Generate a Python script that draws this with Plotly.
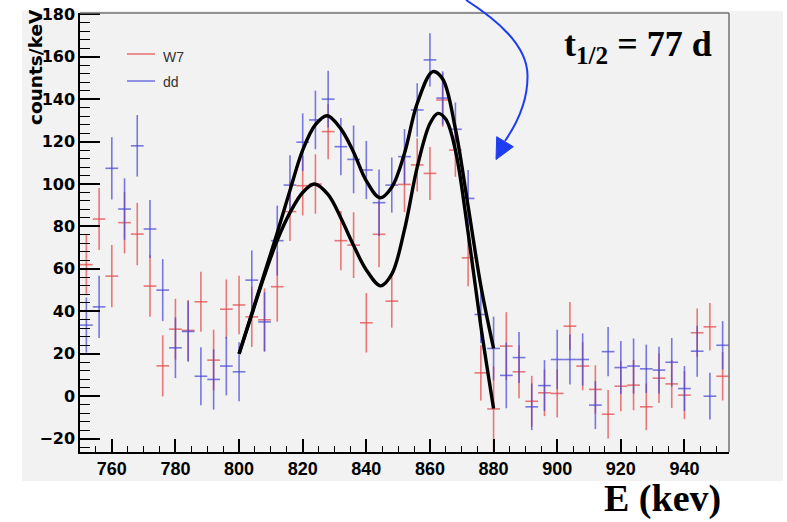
import plotly.graph_objects as go

# Energy bin centres (keV) and counts/keV for the two models
energy = [752, 756, 760, 764, 768, 772, 776, 780, 784, 788, 792, 796, 800, 804, 808,
          812, 816, 820, 824, 828, 832, 836, 840, 844, 848, 852, 856, 860, 864, 868,
          872, 876, 880, 884, 888, 892, 896, 900, 904, 908, 912, 916, 920, 924, 928,
          932, 936, 940, 944, 948, 952]

w7_counts = [62, 83.5, 56.6, 81.8, 76.4, 51.9, 14.3, 31.6, 31, 44.5, 17, 41, 43, 37.4, 36,
             51.6, 87, 99.2, 100, 124.7, 73.3, 71.2, 34.6, 76.3, 44.8, 99.8, 109, 105, 139.6, 116,
             65.2, 11, -6, 23.6, 11.5, -2.4, 1.6, 1.3, 33, 14.2, 3.2, -8.5, 4.7, 5.2, -5,
             8.5, 5.8, 0.5, 29.9, 32.7, 9.4]
w7_err = [14.5, 14.6, 14.7, 14.5, 14.7, 14.5, 14.4, 14.3, 14.3, 14.1, 14.3, 14, 13.8, 14.2, 14.8,
          16.5, 13.8, 14, 14, 13, 14, 15.5, 14, 15.5, 12.5, 13, 12.5, 12.5, 12.6, 12.6,
          13.4, 13, 20, 16, 12.5, 12, 11, 11.3, 11.4, 11.4, 11.4, 11.4, 11.8, 11.8, 11,
          11.7, 11.3, 11.3, 11.4, 11.2, 11.4]

dd_counts = [33.5, 42.1, 107.4, 88.2, 118, 78.8, 50, 22.8, 30.5, 9.4, 7.9, 14.2, 11.5, 54.7, 35,
             73.3, 99.5, 119.7, 130.2, 140, 117.6, 111.6, 106.6, 91.2, 99.5, 112.9, 134.9, 158.5, 140.5, 125.8,
             93.2, 38.5, 22.5, 9.8, 18.2, -5, 5, 17.3, 17.3, 17.3, -4.2, 21, 13.5, 14.2, 12.9,
             12.3, 16, 3.6, 21.2, 0, 24]
dd_err = [13, 14.7, 14.7, 14.5, 14.5, 13.7, 14.6, 14.3, 14.3, 13.7, 14.2, 13.8, 13.9, 14, 14,
          16.5, 14, 13.6, 13.8, 13.4, 13.5, 16, 13.7, 15.7, 13, 13, 12.6, 12.5, 12.6, 12.6,
          13.4, 13.4, 15, 15.5, 12, 11, 12, 14, 11.8, 12.3, 11.3, 11.6, 12.5, 13, 11.4,
          11, 11.4, 10.6, 12, 11, 11.4]
half_bin = 2

# Fitted line shapes (sampled)
dd_fit_x = [800, 804, 808, 812, 816, 820, 824, 827.7, 832, 836, 840, 844.3, 848, 852, 856,
            860.9, 864, 868, 872, 876, 880]
dd_fit_y = [20, 39, 58, 77, 97, 116, 128, 132.2, 126, 115, 101.5, 93.5, 98.5, 114.5, 138,
            153, 149.5, 126, 89.5, 52, 22.5]
w7_fit_x = [800, 804, 808, 812, 816, 820, 823.7, 828, 832, 836, 840, 844.5, 848, 852, 856,
            860, 862.5, 865, 868, 872, 876, 880]
w7_fit_y = [20, 38.5, 57, 73.5, 86.5, 96, 100, 95, 84, 71, 59.5, 52, 57.5, 78.5, 108,
            128.5, 133.3, 130.5, 116, 77, 33, -5.8]

x_range = [750, 954]
y_range = [-26.3, 180.6]

W, H = 787, 522
L, R, T, B = 80, 729, 13, 452   # frame edges in pixels


def px(x):
    return (x - L) / (R - L)


def py(y):
    return (B - y) / (B - T)


RED = "rgba(228,70,70,0.72)"
BLUE = "rgba(70,70,215,0.72)"

fig = go.Figure()

for xs, ys, es, col in [(energy, w7_counts, w7_err, RED), (energy, dd_counts, dd_err, BLUE)]:
    fig.add_trace(go.Scatter(
        x=xs, y=ys, mode="markers",
        marker=dict(size=1, color=col, opacity=0),
        error_x=dict(type="constant", value=half_bin, color=col, thickness=1.6, width=0),
        error_y=dict(type="data", array=es, color=col, thickness=1.6, width=0),
        showlegend=False, hoverinfo="skip",
    ))

for fx, fy in [(dd_fit_x, dd_fit_y), (w7_fit_x, w7_fit_y)]:
    fig.add_trace(go.Scatter(
        x=fx, y=fy, mode="lines",
        line=dict(color="black", width=3.4, shape="spline", smoothing=1.0),
        showlegend=False, hoverinfo="skip",
    ))

shapes = [
    # canvas background
    dict(type="rect", xref="paper", yref="paper", x0=px(22), x1=px(783), y0=py(481), y1=py(11),
         fillcolor="#f2f2f2", line=dict(width=0), layer="below"),
    # top and right frame lines
    dict(type="line", xref="paper", yref="paper", x0=0, x1=1, y0=1, y1=1,
         line=dict(color="#707070", width=1.5)),
    dict(type="line", xref="paper", yref="paper", x0=1, x1=1, y0=0, y1=1,
         line=dict(color="#707070", width=1.5)),
    # legend swatches
    dict(type="line", xref="paper", yref="paper", x0=px(127), x1=px(155), y0=py(54), y1=py(54),
         line=dict(color=RED, width=1.6)),
    dict(type="line", xref="paper", yref="paper", x0=px(127), x1=px(155), y0=py(81), y1=py(81),
         line=dict(color=BLUE, width=1.6)),
]

# curved blue arrow
arrow_path = (f"M {px(466)},{py(0)} C {px(497)},{py(20)} {px(527)},{py(45)} {px(527.5)},{py(75)} "
              f"C {px(528)},{py(100)} {px(518)},{py(122)} {px(505)},{py(141)}")
shapes.append(dict(type="path", xref="paper", yref="paper", path=arrow_path,
                   line=dict(color="#1e3cf0", width=2)))
head = (f"M {px(496.7)},{py(136.7)} L {px(513.3)},{py(146.7)} L {px(496)},{py(159.5)} Z")
shapes.append(dict(type="path", xref="paper", yref="paper", path=head,
                   fillcolor="#1e3cf0", line=dict(color="#1e3cf0", width=1)))

annotations = [
    dict(text="<b>counts/keV</b>", xref="paper", yref="paper", x=px(35), y=py(67),
         textangle=-90, showarrow=False, xanchor="center", yanchor="middle",
         font=dict(family="DejaVu Sans", size=18.5, color="black")),
    dict(text="W7", xref="paper", yref="paper", x=px(161), y=py(57), showarrow=False,
         xanchor="left", yanchor="middle", font=dict(family="Liberation Sans", size=14, color="#333")),
    dict(text="dd", xref="paper", yref="paper", x=px(161), y=py(82), showarrow=False,
         xanchor="left", yanchor="middle", font=dict(family="Liberation Sans", size=14, color="#333")),
    dict(text="<b>t<sub>1/2</sub> = 77 d</b>", xref="paper", yref="paper", x=px(562), y=py(46),
         showarrow=False, xanchor="left", yanchor="middle",
         font=dict(family="Liberation Serif", size=36, color="black")),
    dict(text="<b>E (kev)</b>", xref="paper", yref="paper", x=px(662), y=py(521),
         showarrow=False, xanchor="center", yanchor="bottom", borderpad=0,
         font=dict(family="Liberation Serif", size=38, color="black")),
]

fig.update_layout(
    width=W, height=H, autosize=False,
    margin=dict(l=L, r=W - R, t=T, b=H - B, pad=0),
    paper_bgcolor="white", plot_bgcolor="#f2f2f2",
    shapes=shapes, annotations=annotations, showlegend=False,
)

fig.update_xaxes(
    range=x_range, showgrid=False, zeroline=False, automargin=False,
    showline=True, linecolor="black", linewidth=1.5,
    ticks="inside", ticklen=13, tickwidth=1.5, tickcolor="black",
    tick0=0, dtick=20,
    minor=dict(ticks="inside", ticklen=6.5, tickwidth=1.2, tickcolor="black", dtick=5, tick0=0),
    tickfont=dict(family="Liberation Sans", size=18, color="black", weight="bold"),
)
fig.update_yaxes(
    range=y_range, showgrid=False, zeroline=False, automargin=False,
    showline=True, linecolor="black", linewidth=1.5,
    ticks="inside", ticklen=20, tickwidth=1.5, tickcolor="black",
    tick0=0, dtick=20,
    minor=dict(ticks="inside", ticklen=10.5, tickwidth=1.2, tickcolor="black", dtick=4, tick0=0),
    tickfont=dict(family="DejaVu Sans", size=16, color="black", weight="bold"),
)

fig.write_html("out.html")
